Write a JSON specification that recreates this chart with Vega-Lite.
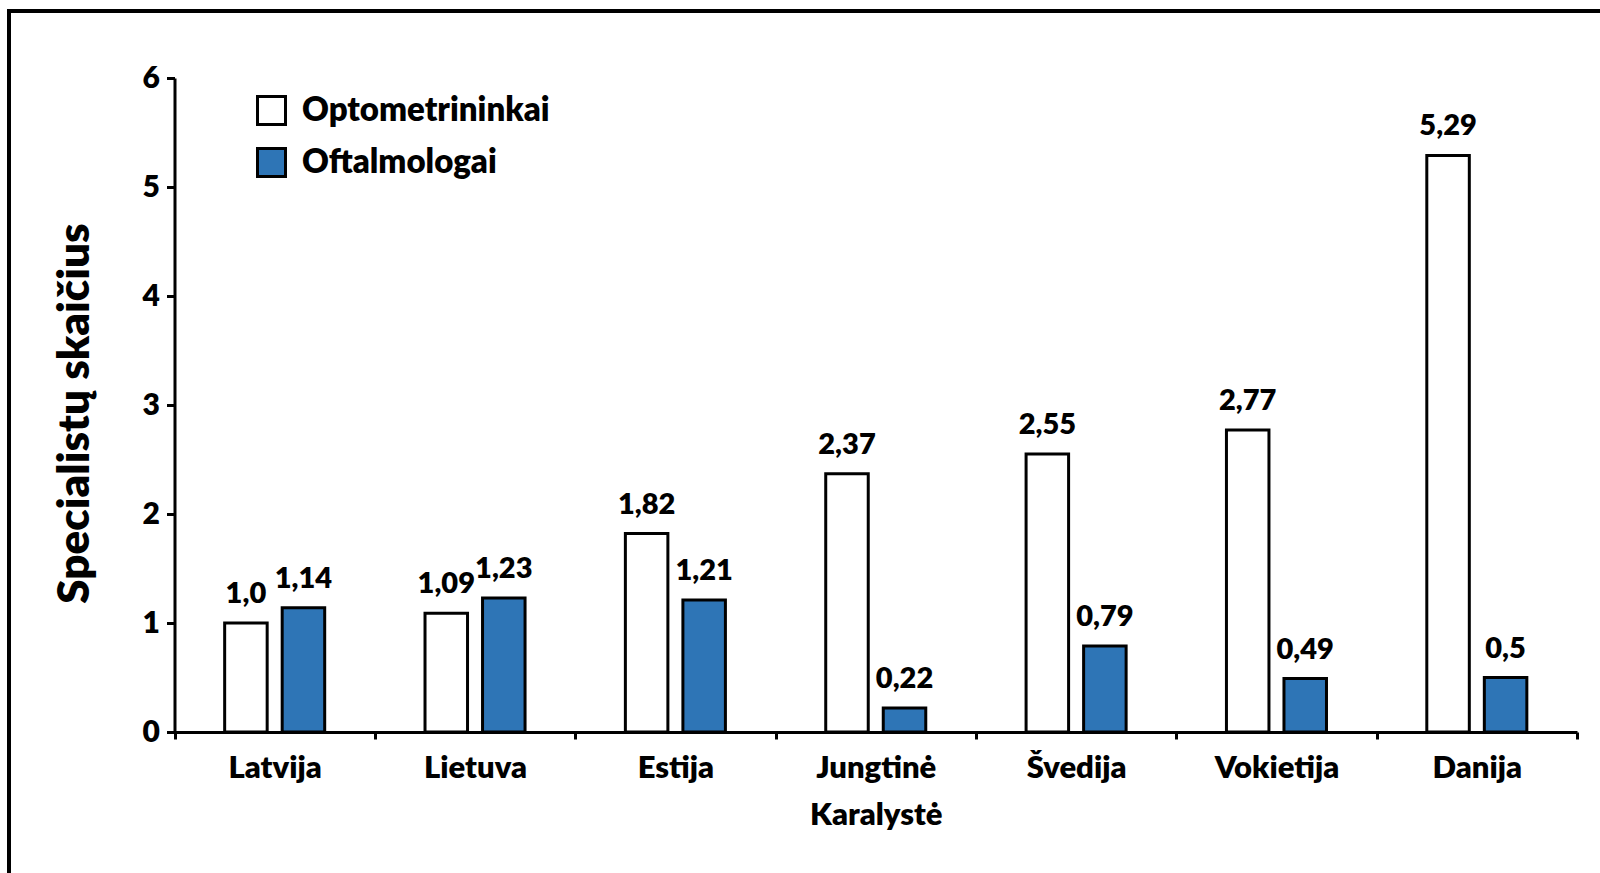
{
  "$schema": "https://vega.github.io/schema/vega-lite/v6.json",
  "autosize": {"type": "none"},
  "padding": {"left": 9, "top": 11, "right": -6, "bottom": -6},
  "width": 1597,
  "height": 868,
  "background": "white",
  "config": {
    "view": {"stroke": "black", "strokeWidth": 4},
    "font": "Lato"
  },
  "data": {
    "values": [
      {"country": "Latvija", "group": "Optometrininkai", "value": 1.0, "label": "1,0"},
      {"country": "Latvija", "group": "Oftalmologai", "value": 1.14, "label": "1,14"},
      {"country": "Lietuva", "group": "Optometrininkai", "value": 1.09, "label": "1,09"},
      {"country": "Lietuva", "group": "Oftalmologai", "value": 1.23, "label": "1,23"},
      {"country": "Estija", "group": "Optometrininkai", "value": 1.82, "label": "1,82"},
      {"country": "Estija", "group": "Oftalmologai", "value": 1.21, "label": "1,21"},
      {"country": "Jungtinė Karalystė", "group": "Optometrininkai", "value": 2.37, "label": "2,37"},
      {"country": "Jungtinė Karalystė", "group": "Oftalmologai", "value": 0.22, "label": "0,22"},
      {"country": "Švedija", "group": "Optometrininkai", "value": 2.55, "label": "2,55"},
      {"country": "Švedija", "group": "Oftalmologai", "value": 0.79, "label": "0,79"},
      {"country": "Vokietija", "group": "Optometrininkai", "value": 2.77, "label": "2,77"},
      {"country": "Vokietija", "group": "Oftalmologai", "value": 0.49, "label": "0,49"},
      {"country": "Danija", "group": "Optometrininkai", "value": 5.29, "label": "5,29"},
      {"country": "Danija", "group": "Oftalmologai", "value": 0.5, "label": "0,5"}
    ]
  },
  "encoding": {
    "x": {
      "field": "country",
      "type": "nominal",
      "sort": ["Latvija", "Lietuva", "Estija", "Jungtinė Karalystė", "Švedija", "Vokietija", "Danija"],
      "scale": {"range": [165.5, 1568], "paddingInner": 0, "paddingOuter": 0},
      "axis": {
        "title": null,
        "labelAngle": 0,
        "tickBand": "extent",
        "ticks": true,
        "tickSize": 7,
        "tickWidth": 3,
        "tickColor": "black",
        "domainColor": "black",
        "domainWidth": 3,
        "labelFont": "Lato",
        "labelFontWeight": 800,
        "labelFontSize": 31,
        "labelColor": "black",
        "labelPadding": 14,
        "labelLineHeight": 47,
        "labelBaseline": "top",
        "labelExpr": "datum.label == 'Jungtinė Karalystė' ? ['Jungtinė', 'Karalystė'] : datum.label",
        "offset": -147,
        "grid": false
      }
    },
    "xOffset": {
      "field": "group",
      "type": "nominal",
      "sort": ["Optometrininkai", "Oftalmologai"],
      "scale": {"paddingInner": 0.261, "paddingOuter": 0.872}
    },
    "y": {
      "field": "value",
      "type": "quantitative",
      "scale": {"domain": [0, 6], "range": [721, 67], "nice": false, "zero": true},
      "axis": {
        "title": "Specialistų skaičius",
        "values": [0, 1, 2, 3, 4, 5, 6],
        "tickSize": 8,
        "tickWidth": 3,
        "tickColor": "black",
        "domainColor": "black",
        "domainWidth": 3,
        "labelFont": "Lato",
        "labelFontWeight": 800,
        "labelFontSize": 30,
        "labelColor": "black",
        "labelPadding": 7,
        "offset": -165.5,
        "grid": false,
        "titleFont": "Lato",
        "titleFontWeight": 800,
        "titleFontSize": 44,
        "titleColor": "black",
        "titleX": -99,
        "titleY": 402,
        "titleBaseline": "middle",
        "titleAngle": -90
      }
    }
  },
  "layer": [
    {
      "mark": {"type": "bar", "stroke": "black", "strokeWidth": 3},
      "encoding": {
        "fill": {
          "field": "group",
          "type": "nominal",
          "scale": {"domain": ["Optometrininkai", "Oftalmologai"], "range": ["white", "#2E75B6"]},
          "legend": {
            "title": null,
            "orient": "none",
            "legendX": 246,
            "legendY": 83,
            "symbolType": "square",
            "symbolSize": 784,
            "symbolStrokeColor": "black",
            "symbolStrokeWidth": 3,
            "labelFont": "Lato",
            "labelFontWeight": 800,
            "labelFontSize": 33,
            "labelColor": "black",
            "labelOffset": 14,
            "labelLimit": 500,
            "rowPadding": 11
          }
        }
      }
    },
    {
      "mark": {"type": "text", "baseline": "alphabetic", "dy": -20, "font": "Lato", "fontWeight": 800, "fontSize": 29, "color": "black"},
      "encoding": {
        "text": {"field": "label"}
      }
    }
  ]
}
